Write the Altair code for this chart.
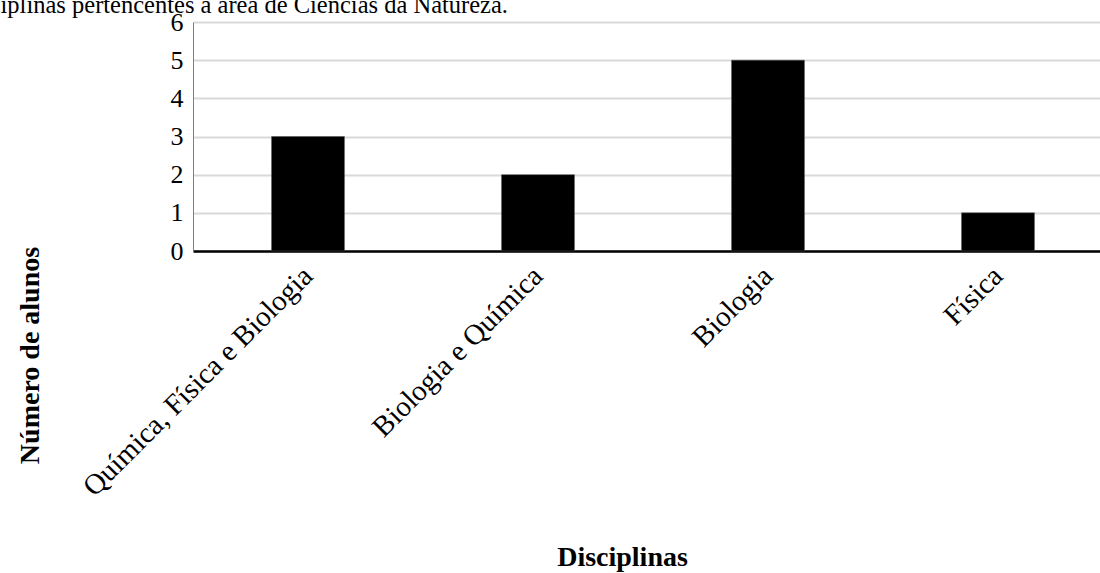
import altair as alt
import pandas as pd

categories = ["Química, Física e Biologia", "Biologia e Química", "Biologia", "Física"]
values = [3, 2, 5, 1]
y_ticks = [0, 1, 2, 3, 4, 5, 6]
caption = "disciplinas pertencentes à área de Ciências da Natureza."
x_title = "Disciplinas"
y_title = "Número de alunos"

df = pd.DataFrame({"cat": categories, "val": values})
FONT = "Liberation Serif"

bars = alt.Chart(df).mark_bar(color="black", stroke="#555", strokeWidth=0.5).encode(
    x=alt.X("cat:N", sort=categories,
            scale=alt.Scale(range=[0, 920], paddingInner=0.683, paddingOuter=0.3415),
            axis=alt.Axis(title=x_title, labelAngle=-45, labelFont=FONT, labelFontSize=29,
                          labelColor="black", ticks=False, labelPadding=20,
                          labelAlign="right", labelBaseline="middle",
                          domainColor="black", domainWidth=2.5, grid=False,
                          titleFont=FONT, titleFontSize=28, titleFontWeight="bold",
                          titleColor="black", titleX=429, titleY=314, titleAnchor="middle",
                          titleBaseline="alphabetic", labelLimit=400)),
    y=alt.Y("val:Q", scale=alt.Scale(domain=[0, 6], nice=False),
            axis=alt.Axis(title=y_title, values=y_ticks, labelFont=FONT, labelFontSize=26,
                          labelColor="black", ticks=False, labelPadding=10,
                          domainColor="#7f7f7f", domainWidth=1,
                          gridColor="#d9d9d9", gridWidth=2,
                          titleFont=FONT, titleFontSize=28, titleFontWeight="bold",
                          titleColor="black", titleX=-163, titleY=333, titleAngle=-90,
                          titleAnchor="middle", titleBaseline="middle")),
)

cap = alt.Chart(pd.DataFrame({"t": [caption]})).mark_text(
    font=FONT, fontSize=24.5, align="right", baseline="alphabetic", color="black"
).encode(x=alt.value(508 - 193), y=alt.value(13 - 22), text="t:N")

chart = (bars + cap).properties(
    width=907, height=229,
    padding={"left": 193, "top": 22, "right": 0, "bottom": 322},
    autosize=alt.AutoSizeParams(type="none"),
).configure_view(stroke=None).configure(background="white")

chart.save("out.html", embed_options={"renderer": "svg", "actions": False})
